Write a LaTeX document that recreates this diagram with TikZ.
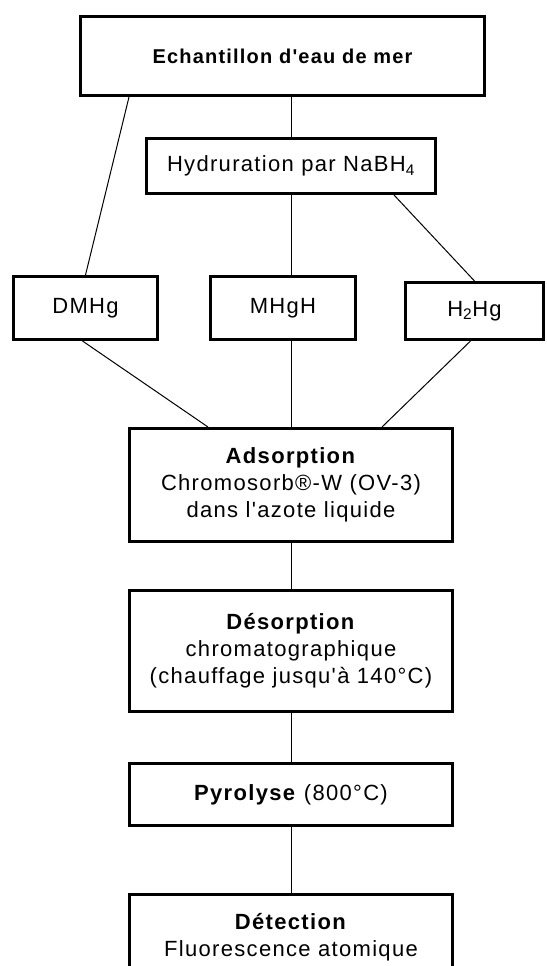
\documentclass[tikz,border=0pt]{standalone}
\usepackage{fontspec}
\setmainfont{Liberation Sans}[LetterSpace=6, Ligatures=TeXOff]
\usepackage{tikz}
\usetikzlibrary{positioning,calc}
\tikzset{
  stagebox/.style={rectangle, draw=black, line width=3pt, fill=white,
                   align=center, inner sep=0pt,
                   font=\fontsize{22}{27}\selectfont},
  link/.style={draw=black, line width=1pt},
}

\begin{document}
\begin{tikzpicture}[
    x=1pt,
    y=-1pt,
  ]
    \useasboundingbox (0,0) rectangle (546,966);
    \clip (0,0) rectangle (546,966);

    % Top: sample and hydride generation
    \node[stagebox, minimum width=404pt, minimum height=79pt,
          font=\fontsize{20}{24}\selectfont\bfseries] (sample) at (282.5,56) {Echantillon d'eau de mer};
    \node[stagebox, minimum width=289pt, minimum height=55pt] (hydr) at (291,166) {Hydruration par NaBH\textsubscript{4}};

    % Row of mercury species
    \node[stagebox, minimum width=144pt, minimum height=63pt] (dmhg) at (85.5,308) {DMHg};
    \node[stagebox, minimum width=145pt, minimum height=63pt] (mhgh) at (283,308) {MHgH};
    \node[stagebox, minimum width=138pt, minimum height=57pt] (h2hg) at (474.5,311) {H\textsubscript{2}Hg};

    % Column of treatment steps
    \node[stagebox, minimum width=323pt, minimum height=113pt] (adsorp) at (291,485)
      {\textbf{Adsorption}\\Chromosorb®-W (OV-3)\\dans l'azote liquide};
    \node[stagebox, minimum width=323pt, minimum height=121pt] (desorp) at (291,651)
      {\textbf{Désorption}\\chromatographique\\(chauffage jusqu'à 140°C)};
    \node[stagebox, minimum width=323pt, minimum height=62pt] (pyro) at (291,794.5)
      {\textbf{Pyrolyse} (800°C)};
    \node[stagebox, minimum width=323pt, minimum height=85pt] (detect) at (291,937)
      {\textbf{Détection}\\Fluorescence atomique};

    % Links from the sample
    \draw[link] (sample.south -| hydr.north) -- (hydr.north);
    \draw[link] ([xshift=50pt]sample.south west) -- (dmhg.north);
    \draw[link] (hydr.south) -- (hydr.south |- mhgh.north);
    \draw[link] ([xshift=-43pt]hydr.south east) -- (h2hg.north);

    % Species to adsorption
    \draw[link] ([xshift=-3pt]dmhg.south) -- ([xshift=80pt]adsorp.north west);
    \draw[link] (adsorp.north |- mhgh.south) -- (adsorp.north);
    \draw[link] ([xshift=-4pt]h2hg.south) -- ([xshift=-72pt]adsorp.north east);

    % Down the column
    \draw[link] (adsorp) -- (desorp);
    \draw[link] (desorp) -- (pyro);
    \draw[link] (pyro)   -- (detect);
  \end{tikzpicture}
\end{document}
